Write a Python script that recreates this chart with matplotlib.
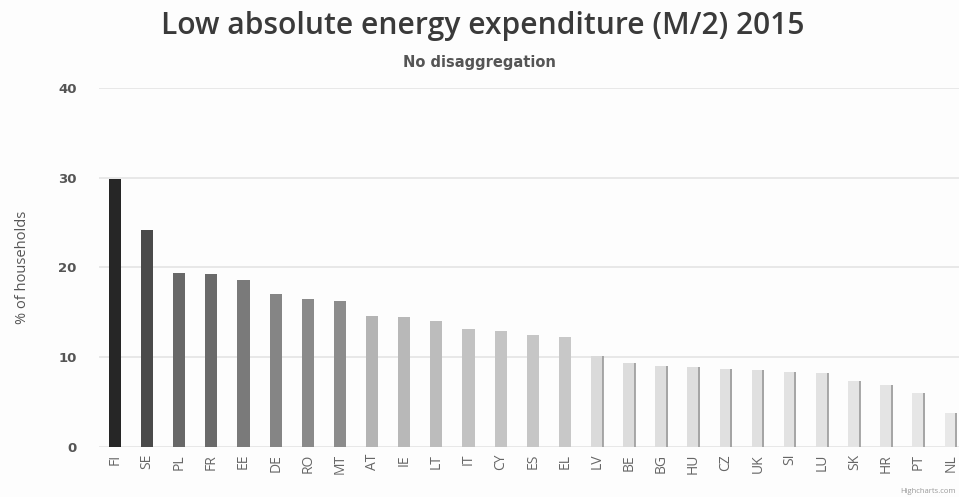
import matplotlib
matplotlib.use('Agg')
import matplotlib.pyplot as plt
import numpy as np

countries = ['FI', 'SE', 'PL', 'FR', 'EE', 'DE', 'RO', 'MT', 'AT', 'IE', 'LT', 'IT', 'CY', 'ES',
             'EL', 'LV', 'BE', 'BG', 'HU', 'CZ', 'UK', 'SI', 'LU', 'SK', 'HR', 'PT', 'NL']
share = [29.9, 24.2, 19.4, 19.3, 18.6, 17.1, 16.5, 16.3, 14.6, 14.5, 14.0, 13.2, 12.9, 12.5,
         12.3, 10.1, 9.4, 9.0, 8.9, 8.7, 8.6, 8.4, 8.3, 7.4, 6.9, 6.0, 3.8]
y_ticks = [0, 10, 20, 30, 40]

# grey shading, dark to light as in the printed chart
shades = ['#262626', '#4a4a4a', '#686868', '#6a6a6a', '#7a7a7a', '#858585', '#8a8a8a', '#8c8c8c',
          '#b4b4b4', '#b8b8b8', '#bcbcbc', '#c2c2c2', '#c4c4c4', '#c6c6c6', '#c8c8c8',
          '#dadada', '#dcdcdc', '#dedede', '#dedede', '#e0e0e0', '#e0e0e0', '#e2e2e2', '#e2e2e2',
          '#e4e4e4', '#e4e4e4', '#e6e6e6', '#e8e8e8']

plt.rcParams['font.family'] = ['Open Sans', 'DejaVu Sans']

fig = plt.figure(figsize=(9.59, 4.97), dpi=100)
fig.patch.set_facecolor('#fdfdfd')
ax = fig.add_axes([0.1031, 0.1006, 0.905, 0.7224])
ax.set_facecolor('#fdfdfd')

x = np.arange(len(countries))
ax.bar(x, share, width=0.38, color=shades, zorder=3)
# faint darker right edge on the light bars (print shadow)
light = x >= 15
ax.vlines(x[light] + 0.17, 0, np.array(share)[light], color='#9a9a9a', lw=1.2, zorder=4)

ax.set_xlim(-0.5, len(countries) - 0.5)
ax.set_ylim(0, 40)
ax.set_yticks(y_ticks)
ax.set_yticklabels([str(t) for t in y_ticks], fontsize=9.5, color='#555555', fontweight='bold',
                   family='DejaVu Sans')
ax.set_xticks(x)
ax.set_xticklabels(countries, rotation=90, fontsize=10, color='#666666')
ax.tick_params(axis='both', length=0)
ax.tick_params(axis='y', pad=16)
ax.tick_params(axis='x', pad=5)
ax.grid(axis='y', color='#e4e4e4', lw=1.2, zorder=0)
for s in ax.spines.values():
    s.set_visible(False)

ax.set_ylabel('% of households', fontsize=10.5, color='#555555', labelpad=20)

fig.text(0.503, 0.948, 'Low absolute energy expenditure (M/2) 2015', ha='center', va='center',
         fontsize=21.6, color='#3a3a3a', fontweight='semibold')
fig.text(0.50, 0.875, 'No disaggregation', ha='center', va='center',
         fontsize=10.5, color='#555555', fontweight='bold', family='DejaVu Sans')
fig.text(0.997, 0.005, 'Highcharts.com', ha='right', va='bottom', fontsize=5.5, color='#999999')

fig.savefig('out.png', dpi=100)
